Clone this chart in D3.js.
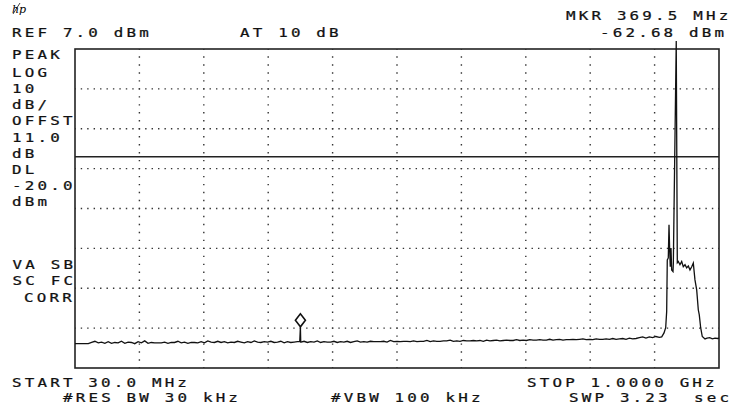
<!DOCTYPE html>
<html>
<head>
<meta charset="utf-8">
<script src="https://cdn.jsdelivr.net/npm/d3@7"></script>
<style>
  body { margin: 0; background: #fff; }
  svg text.lbl { font-family: "DejaVu Sans Mono", monospace; font-size: 13px; fill: #111; stroke: #111; stroke-width: 0.25px; letter-spacing: 2.6px; white-space: pre; }
</style>
</head>
<body>
<div id="chart"></div>
<script>
const width = 734;
const height = 409;

// analyzer settings
const refLevel = 7.0;      // dBm, top of graticule
const dbPerDiv = 10;
const startFreq = 30.0;    // MHz
const stopFreq = 1000.0;   // MHz
const displayLine = -20.0; // dBm
const markerFreq = 369.5;
const markerLevel = -62.68;

// noise floor, every 5 MHz from 30 to 910 MHz (dBm)
const floorStep = 5;
const floorLevels = [
  -66.9,-66.9,-66.9,-66.9,-66.9,-66.6,-66.3,-66.7,-66.5,-66.8,
  -66.4,-66.8,-66.6,-66.7,-66.3,-66.8,-66.5,-66.6,-66.9,-66.4,
  -66.7,-66.2,-66.8,-66.6,-66.7,-66.7,-66.7,-66.5,-66.8,-66.6,
  -66.6,-66.3,-66.7,-66.5,-66.8,-66.6,-66.6,-66.7,-66.4,-66.7,
  -66.2,-66.5,-66.6,-66.3,-66.6,-66.4,-66.7,-66.5,-66.6,-66.3,
  -66.5,-66.7,-66.4,-66.6,-66.2,-66.5,-66.6,-66.4,-66.5,-66.3,
  -66.6,-66.5,-66.3,-66.7,-66.4,-66.6,-66.5,-66.4,-66.5,-66.3,
  -66.6,-66.4,-66.5,-66.2,-66.6,-66.4,-66.5,-66.5,-66.3,-66.6,
  -66.4,-66.5,-66.3,-66.6,-66.4,-66.2,-66.5,-66.4,-66.5,-66.3,
  -66.4,-66.4,-66.4,-66.3,-66.5,-66.1,-66.4,-66.3,-66.4,-66.3,
  -66.3,-66.4,-66.2,-66.4,-66.3,-66.3,-66.1,-66.4,-66.2,-66.3,
  -66.3,-66.2,-66.2,-66.0,-66.3,-66.2,-66.3,-66.1,-66.2,-66.2,
  -66.1,-66.2,-66.1,-66.3,-66.0,-66.2,-66.1,-66.0,-66.2,-66.1,
  -66.0,-66.1,-66.1,-65.9,-66.1,-66.0,-66.1,-65.9,-66.0,-66.0,
  -65.9,-66.0,-66.0,-65.8,-66.0,-65.9,-65.8,-66.0,-65.9,-65.9,
  -65.8,-65.9,-65.8,-65.7,-65.9,-65.8,-65.9,-65.7,-65.8,-65.8,
  -65.7,-65.8,-65.6,-65.8,-65.7,-65.6,-65.8,-65.5,-65.7,-65.6,
  -65.4,-65.2,-65.5,-65.2,-65.4,-65.1,-65.3
];

// marker spike
const spikeFreqs  = [368.5, 369.5, 370.5];
const spikeLevels = [-66.4, markerLevel, -66.5];

// signal burst near 930 MHz and tail
const burstFreqs = [
  913.7, 917.2, 919.7, 921.2, 922.1, 923.6, 924.7, 925.7, 926.6, 927.7,
  928.7, 930.7, 931.2, 935.6, 937.2, 938.7, 941.2, 943.8, 946.2, 948.8,
  951.3, 953.8, 956.3, 958.9, 961.3, 963.8, 966.4, 968.8, 970.3, 972.4,
  974.8, 978.9, 982, 986, 990, 994, 998, 1000
];
const burstLevels = [
  -65.2, -64.2, -62.9, -58.8, -45.9, -45.4, -37.1, -43.4, -47.6, -42.9,
  -48.4, -48.8, -47.0, 9.0, -46.6, -46.3, -47.1, -46.3, -47.6, -47.1,
  -47.9, -47.4, -48.4, -47.6, -46.7, -50.9, -53.4, -58.4, -59.7, -62.9,
  -65.1, -65.7, -65.5, -65.4, -65.7, -65.5, -65.6, -65.5
];

const plot = { left: 75, right: 719, top: 49, bottom: 368 };

const x = d3.scaleLinear().domain([startFreq, stopFreq]).range([plot.left, plot.right]);
const y = d3.scaleLinear().domain([refLevel, refLevel - 8 * dbPerDiv]).range([plot.top, plot.bottom]);

let trace = floorLevels.map((v, i) => [startFreq + i * floorStep, v]);
spikeFreqs.forEach((f, i) => trace.push([f, spikeLevels[i]]));
burstFreqs.forEach((f, i) => trace.push([f, burstLevels[i]]));
trace.sort((a, b) => a[0] - b[0]);

const svg = d3.select("#chart").append("svg").attr("width", width).attr("height", height);

// graticule dotted lines
const xDivs = d3.range(1, 10).map(k => startFreq + k * (stopFreq - startFreq) / 10);
const yDivs = d3.range(1, 8).map(k => refLevel - k * dbPerDiv);

svg.append("g").selectAll("line")
  .data(yDivs)
  .enter()
  .append("line")
  .attr("x1", plot.left).attr("x2", plot.right)
  .attr("y1", d => y(d)).attr("y2", d => y(d))
  .attr("stroke", "#333")
  .attr("stroke-width", 1.4)
  .attr("stroke-dasharray", "1.4," + ((plot.right - plot.left) / 100 - 1.4))
  .attr("stroke-dashoffset", -((plot.right - plot.left) / 100 - 0.7));

svg.append("g").selectAll("line")
  .data(xDivs)
  .enter()
  .append("line")
  .attr("x1", d => x(d)).attr("x2", d => x(d))
  .attr("y1", plot.top).attr("y2", plot.bottom)
  .attr("stroke", "#333")
  .attr("stroke-width", 1.4)
  .attr("stroke-dasharray", "1.4," + ((plot.bottom - plot.top) / 40 - 1.4))
  .attr("stroke-dashoffset", -((plot.bottom - plot.top) / 40 - 0.7));

// display line
svg.append("line")
  .attr("x1", plot.left).attr("x2", plot.right)
  .attr("y1", y(displayLine)).attr("y2", y(displayLine))
  .attr("stroke", "#222")
  .attr("stroke-width", 1.5);

// border
svg.append("rect")
  .attr("x", plot.left).attr("y", plot.top)
  .attr("width", plot.right - plot.left).attr("height", plot.bottom - plot.top)
  .attr("fill", "none")
  .attr("stroke", "#222")
  .attr("stroke-width", 1.6);

// trace
const line = d3.line().x(d => x(d[0])).y(d => y(d[1]));
svg.append("path")
  .datum(trace)
  .attr("d", line)
  .attr("fill", "none")
  .attr("stroke", "#111")
  .attr("stroke-width", 1.3)
  .attr("stroke-linejoin", "miter");

// marker diamond sitting on the marker point
const mx = x(markerFreq), my = y(markerLevel);
svg.append("path")
  .attr("d", `M${mx},${my} L${mx - 5},${my - 6.5} L${mx},${my - 13} L${mx + 5},${my - 6.5} Z`)
  .attr("fill", "#fff")
  .attr("stroke", "#111")
  .attr("stroke-width", 1.6);

// annotation texts
const labels = [
  { t: "REF 7.0 dBm", x: 12, y: 36.5 },
  { t: "AT 10 dB", x: 240, y: 36.5 },
  { t: "MKR 369.5 MHz", x: 566, y: 20 },
  { t: "-62.68 dBm", x: 600, y: 37 },
  { t: "PEAK", x: 12, y: 58.5 },
  { t: "LOG", x: 12, y: 76.5 },
  { t: "10", x: 12, y: 93 },
  { t: "dB/", x: 12, y: 109 },
  { t: "OFFST", x: 12, y: 125 },
  { t: "11.0", x: 12, y: 141.5 },
  { t: "dB", x: 12, y: 157.5 },
  { t: "DL", x: 12, y: 173.5 },
  { t: "-20.0", x: 12, y: 189.5 },
  { t: "dBm", x: 12, y: 205.5 },
  { t: "VA SB", x: 12.5, y: 268.5 },
  { t: "SC FC", x: 12.5, y: 285 },
  { t: "CORR", x: 24, y: 301.5 },
  { t: "START 30.0 MHz", x: 12, y: 387 },
  { t: "#RES BW 30 kHz", x: 63, y: 402 },
  { t: "#VBW 100 kHz", x: 331, y: 402 },
  { t: "STOP 1.0000 GHz", x: 527, y: 387 },
  { t: "SWP 3.23", x: 569, y: 402 },
  { t: "sec", x: 694, y: 402 }
];

// glyphs are stretched horizontally a bit to match the analyzer's wide font
svg.append("g").selectAll("text")
  .data(labels)
  .enter()
  .append("text")
  .attr("class", "lbl")
  .attr("transform", d => `translate(${d.x},${d.y}) scale(1.22,1)`)
  .text(d => d.t);

// hp logo
svg.append("text")
  .attr("x", 12).attr("y", 13)
  .style("font-family", "DejaVu Serif")
  .style("font-style", "italic")
  .style("font-size", "11px")
  .text("hp");
svg.append("line")
  .attr("x1", 13).attr("y1", 14).attr("x2", 20).attr("y2", 3)
  .attr("stroke", "#111").attr("stroke-width", 0.8);
</script>
</body>
</html>
